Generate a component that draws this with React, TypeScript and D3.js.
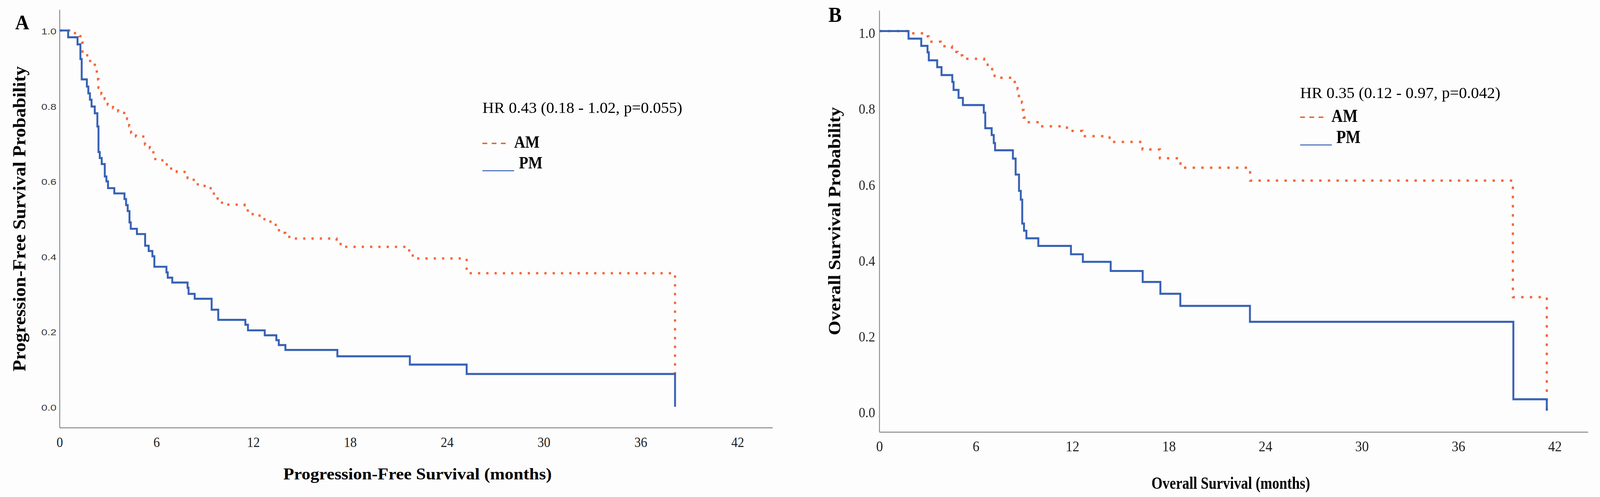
import { useEffect, useRef } from 'react';
import * as d3 from 'd3';

type Pt = [number, number];

// Kaplan-Meier steps: [months, survival probability after the step]
const pfsAM: Pt[] = [
  [0, 1], [0.85, 0.993], [1.22, 0.985], [1.38, 0.968], [1.41, 0.944], [1.7, 0.934], [1.88, 0.919],
  [2.17, 0.909], [2.29, 0.891], [2.37, 0.87], [2.4, 0.848], [2.58, 0.831], [2.78, 0.818], [2.97, 0.803],
  [3.3, 0.794], [3.62, 0.785], [3.99, 0.777], [4.17, 0.765], [4.3, 0.746], [4.42, 0.728], [4.72, 0.718],
  [5.28, 0.697], [5.58, 0.687], [5.8, 0.672], [5.92, 0.655], [6.55, 0.644], [6.9, 0.633], [7.25, 0.624],
  [7.92, 0.608], [8.3, 0.599], [8.55, 0.587], [9.35, 0.576], [9.55, 0.561], [9.78, 0.548], [10.05, 0.537],
  [11.45, 0.531], [11.65, 0.518], [11.95, 0.508], [12.68, 0.492], [13.38, 0.477], [13.58, 0.462],
  [13.97, 0.457], [14.22, 0.447], [17.15, 0.439], [17.4, 0.425], [21.65, 0.409], [21.87, 0.394],
  [25.21, 0.355], [38.12, 0.087],
];

const pfsPM: Pt[] = [
  [0, 1], [0.52, 0.982], [1.1, 0.963], [1.28, 0.924], [1.36, 0.87], [1.68, 0.851], [1.77, 0.833],
  [1.87, 0.816], [1.97, 0.798], [2.17, 0.78], [2.33, 0.745], [2.4, 0.677], [2.48, 0.661], [2.6, 0.645],
  [2.79, 0.612], [2.89, 0.599], [2.99, 0.581], [3.38, 0.567], [4.01, 0.552], [4.11, 0.536], [4.21, 0.52],
  [4.32, 0.49], [4.4, 0.473], [4.78, 0.459], [5.29, 0.428], [5.51, 0.414], [5.74, 0.4], [5.86, 0.372],
  [6.61, 0.357], [6.69, 0.343], [6.97, 0.33], [7.92, 0.316], [7.98, 0.3], [8.36, 0.287], [9.41, 0.258],
  [9.82, 0.231], [11.5, 0.218], [11.66, 0.203], [12.7, 0.19], [13.42, 0.177], [13.57, 0.164],
  [13.98, 0.151], [17.2, 0.134], [21.69, 0.112], [25.21, 0.087], [38.12, 0],
];

const osAM: Pt[] = [
  [0, 1], [1.9, 0.994], [2.85, 0.986], [3.05, 0.972], [3.8, 0.96], [4.5, 0.945], [4.85, 0.936],
  [5.15, 0.927], [6.5, 0.919], [6.72, 0.903], [7.0, 0.893], [7.15, 0.877], [8.4, 0.866], [8.58, 0.847],
  [8.66, 0.829], [8.85, 0.811], [8.91, 0.792], [8.96, 0.772], [9.2, 0.76], [9.95, 0.749], [11.65, 0.737],
  [12.61, 0.723], [14.3, 0.708], [16.35, 0.688], [17.43, 0.665], [18.71, 0.64], [23.04, 0.606],
  [39.38, 0.299], [41.49, 0],
];

const osPM: Pt[] = [
  [0, 1], [1.8, 0.98], [2.59, 0.961], [2.98, 0.944], [3.06, 0.923], [3.58, 0.905], [3.85, 0.884],
  [4.52, 0.866], [4.6, 0.845], [4.91, 0.824], [5.18, 0.805], [6.48, 0.785], [6.57, 0.744], [6.97, 0.726],
  [7.1, 0.705], [7.18, 0.686], [8.29, 0.664], [8.46, 0.622], [8.67, 0.579], [8.78, 0.556], [8.87, 0.493],
  [8.98, 0.474], [9.13, 0.454], [9.87, 0.434], [11.9, 0.412], [12.64, 0.392], [14.37, 0.368],
  [16.36, 0.339], [17.46, 0.308], [18.7, 0.276], [23.03, 0.234], [39.41, 0.03], [41.49, 0],
];

const xTickValues = [0, 6, 12, 18, 24, 30, 36, 42];
const yTickValues = [0, 0.2, 0.4, 0.6, 0.8, 1.0];
const groupNames = ['AM', 'PM'];
const hrLabels = ['HR 0.43 (0.18 - 1.02, p=0.055)', 'HR 0.35 (0.12 - 0.97, p=0.042)'];
const panelLetters = ['A', 'B'];
const xTitles = ['Progression-Free Survival (months)', 'Overall Survival (months)'];
const yTitles = ['Progression-Free Survival Probability', 'Overall Survival Probability'];

const W = 4338;
const H = 1272;
const SERIF = '"Liberation Serif", "Times New Roman", Times, serif';
const SANS = '"Liberation Sans", Arial, Helvetica, sans-serif';
const BLUE = '#3762b5';
const ORANGE = '#f4683a';
const LEGEND_ORANGE = '#e5601e';
const AXIS = '#727272';

export default function App() {
  const svgRef = useRef<SVGSVGElement>(null);

  useEffect(() => {
    if (!svgRef.current) return;
    const svg = d3.select(svgRef.current);
    svg.selectAll('*').remove();

    svg.append('rect').attr('width', W).attr('height', H).attr('fill', '#fdfdfd');

    const panels = [
      {
        am: pfsAM, pm: pfsPM,
        xRange: [162, 2000], yRange: [1041, 78],
        axisTop: 25, axisY: 1095, axisRight: 2095, axisX: 162,
        yTick: { x: 153, dy: 10, size: 22, font: SANS, color: '#383838', len: 41 },
        xTick: { baseline: 1144, size: 35 },
        xTitle: { x: 768, y: 1227, size: 43, len: 728 },
        yTitle: { x: 69, y: 560, size: 50, len: 781 },
        letter: { x: 41, y: 75, size: 53 },
        legend: { x: 1308, hrY: 289, hrLen: 542, amY: 367, amTextX: 1394, amTextY: 378, amLen: 69,
          amLineEnd: 1373, pmY: 437, pmLineEnd: 1394, pmTextX: 1407, pmTextY: 431, pmLen: 64, size: 45 },
        dots: '6 16.5',
      },
      {
        am: osAM, pm: osPM,
        xRange: [2384.8, 4216], yRange: [1051, 79.5],
        axisTop: 27, axisY: 1106, axisRight: 4306, axisX: 2384.5,
        yTick: { x: 2373, dy: 17.5, size: 36, font: SERIF, color: '#262626', len: 0 },
        xTick: { baseline: 1155, size: 37 },
        xTitle: { x: 3122, y: 1251, size: 44, len: 430 },
        yTitle: { x: 2278, y: 566, size: 48, len: 584 },
        letter: { x: 2246, y: 56, size: 54 },
        legend: { x: 3525, hrY: 251, hrLen: 543, amY: 300, amTextX: 3610, amTextY: 312, amLen: 71,
          amLineEnd: 3588, pmY: 371, pmLineEnd: 3611, pmTextX: 3623, pmTextY: 366, pmLen: 66, size: 46 },
        dots: '6.5 17',
      },
    ];

    panels.forEach((p, i) => {
      const x = d3.scaleLinear().domain([0, 42]).range(p.xRange);
      const y = d3.scaleLinear().domain([0, 1]).range(p.yRange);
      const g = svg.append('g');

      // axis lines (no tick marks in the original)
      g.append('line')
        .attr('x1', p.axisX).attr('x2', p.axisX)
        .attr('y1', p.axisTop).attr('y2', p.axisY)
        .attr('stroke', AXIS).attr('stroke-width', 2);
      g.append('line')
        .attr('x1', p.axisX).attr('x2', p.axisRight)
        .attr('y1', p.axisY).attr('y2', p.axisY)
        .attr('stroke', AXIS).attr('stroke-width', 2);

      // y tick labels
      yTickValues.forEach((v) => {
        const t = g.append('text')
          .attr('x', p.yTick.x)
          .attr('y', y(v) + p.yTick.dy)
          .attr('text-anchor', 'end')
          .style('font-family', p.yTick.font)
          .style('font-size', `${p.yTick.size}px`)
          .attr('fill', p.yTick.color)
          .text(d3.format('.1f')(v));
        if (p.yTick.len) t.attr('textLength', p.yTick.len).attr('lengthAdjust', 'spacingAndGlyphs');
      });

      // x tick labels
      xTickValues.forEach((v) => {
        g.append('text')
          .attr('x', x(v))
          .attr('y', p.xTick.baseline)
          .attr('text-anchor', 'middle')
          .style('font-family', SERIF)
          .style('font-size', `${p.xTick.size}px`)
          .attr('fill', '#1e1e1e')
          .text(String(v));
      });

      // axis titles
      g.append('text')
        .attr('x', p.xTitle.x)
        .attr('y', p.xTitle.y)
        .style('font-family', SERIF)
        .style('font-weight', 'bold')
        .style('font-size', `${p.xTitle.size}px`)
        .attr('textLength', p.xTitle.len)
        .attr('lengthAdjust', 'spacingAndGlyphs')
        .text(xTitles[i]);

      g.append('text')
        .attr('transform', `translate(${p.yTitle.x},${p.yTitle.y}) rotate(-90)`)
        .attr('text-anchor', 'middle')
        .style('font-family', SERIF)
        .style('font-weight', 'bold')
        .style('font-size', `${p.yTitle.size}px`)
        .attr('textLength', p.yTitle.len)
        .attr('lengthAdjust', 'spacingAndGlyphs')
        .text(yTitles[i]);

      g.append('text')
        .attr('x', p.letter.x)
        .attr('y', p.letter.y)
        .style('font-family', SERIF)
        .style('font-weight', 'bold')
        .style('font-size', `${p.letter.size}px`)
        .text(panelLetters[i]);

      // survival curves
      const line = d3.line<Pt>()
        .x((d) => x(d[0]))
        .y((d) => y(d[1]))
        .curve(d3.curveStepAfter);

      g.append('path')
        .attr('d', line(p.am))
        .attr('fill', 'none')
        .attr('stroke', ORANGE)
        .attr('stroke-width', 6)
        .attr('stroke-dasharray', p.dots);

      g.append('path')
        .attr('d', line(p.pm))
        .attr('fill', 'none')
        .attr('stroke', BLUE)
        .attr('stroke-width', 5.2);

      // legend
      const lg = p.legend;
      g.append('text')
        .attr('x', lg.x)
        .attr('y', lg.hrY)
        .style('font-family', SERIF)
        .style('font-size', '41px')
        .attr('textLength', lg.hrLen)
        .attr('lengthAdjust', 'spacingAndGlyphs')
        .text(hrLabels[i]);

      g.append('line')
        .attr('x1', lg.x).attr('x2', lg.amLineEnd)
        .attr('y1', lg.amY).attr('y2', lg.amY)
        .attr('stroke', LEGEND_ORANGE)
        .attr('stroke-width', 3.5)
        .attr('stroke-dasharray', '13 12');
      g.append('text')
        .attr('x', lg.amTextX)
        .attr('y', lg.amTextY)
        .style('font-family', SERIF)
        .style('font-weight', 'bold')
        .style('font-size', `${lg.size}px`)
        .attr('textLength', lg.amLen)
        .attr('lengthAdjust', 'spacingAndGlyphs')
        .text(groupNames[0]);

      g.append('line')
        .attr('x1', lg.x).attr('x2', lg.pmLineEnd)
        .attr('y1', lg.pmY).attr('y2', lg.pmY)
        .attr('stroke', BLUE)
        .attr('stroke-width', 2.6);
      g.append('text')
        .attr('x', lg.pmTextX)
        .attr('y', lg.pmTextY)
        .style('font-family', SERIF)
        .style('font-weight', 'bold')
        .style('font-size', `${lg.size}px`)
        .attr('textLength', lg.pmLen)
        .attr('lengthAdjust', 'spacingAndGlyphs')
        .text(groupNames[1]);
    });
  }, []);

  // fill the viewport exactly, whatever its CSS size turns out to be
  return (
    <svg
      ref={svgRef}
      viewBox={`0 0 ${W} ${H}`}
      preserveAspectRatio="none"
      style={{ position: 'fixed', left: 0, top: 0, width: '100vw', height: '100vh', display: 'block' }}
    />
  );
}
